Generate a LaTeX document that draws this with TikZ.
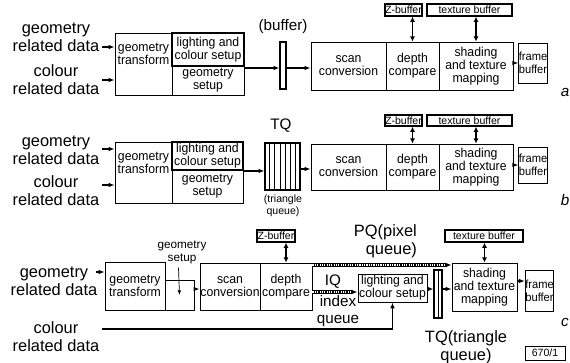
\documentclass[tikz,border=0pt]{standalone}
\usepackage{fontspec}
\setmainfont{Liberation Sans}
\newfontfamily\boxfont[FakeStretch=0.95]{Liberation Sans}
\usetikzlibrary{arrows.meta,positioning,calc}

\begin{document}
\begin{tikzpicture}[x=0.03cm, y=-0.03cm,
    sz/.style 2 args={minimum width=#1*0.03cm, minimum height=#2*0.03cm},
    blk/.style={draw, line width=0.8pt, inner sep=0pt, align=center, font=\boxfont\fontsize{11}{11.2}\selectfont},
    thk/.style={blk, line width=1.6pt},
    fbx/.style={blk, font=\boxfont\fontsize{10}{11}\selectfont},
    mem/.style={draw, line width=1.2pt, inner sep=0pt, font=\fontsize{9}{9}\selectfont},
    que/.style={draw, line width=1pt, inner sep=0pt},
    lbl/.style={align=center, font=\fontsize{14}{15.5}\selectfont},
    sml/.style={align=center, font=\fontsize{9}{10}\selectfont},
    arr/.style={-{Latex[length=5pt,width=4pt]}, line width=1pt},
    dbl/.style={{Latex[length=4.5pt,width=4.5pt]}-{Latex[length=4.5pt,width=4.5pt]}, line width=1.4pt},
    qband/.style={line width=3.2pt},
    qdots/.style={white, line width=1.2pt, dash pattern=on 1pt off 1pt},
    tag/.style={font=\fontsize{13}{14}\selectfont\itshape}
]
\useasboundingbox (0,0) rectangle (570,362);

% ---------- a ----------
\node[lbl] (gdA) at (56,37) {geometry\\related data};
\node[lbl] (cdA) at (56,80) {colour\\related data};
\node[blk, sz={57}{62}] (gtA) at (143.5,64) {geometry\\transform\\[6pt]};
\node[thk, sz={72}{33}] (lcA) at (208,49.5) {lighting and\\colour setup};
\node[blk, sz={72}{29}] (gsA) at (208,80.5) {geometry\\setup};
\node[que, sz={6}{47}] (bufA) at (283,65.5) {};
\node[lbl, font=\fontsize{13}{14}\selectfont] (bufl) at (283,27) {(buffer)};
\node[blk, sz={75}{48}] (scA) at (348.5,66) {scan\\conversion};
\node[blk, sz={53}{48}] (dcA) at (412.5,66) {depth\\compare};
\node[blk, sz={74}{48}] (shA) at (476,66) {shading\\and texture\\mapping};
\node[fbx, sz={28}{40}] (fbA) at (533,63) {frame\\buffer};
\node[mem, sz={37}{12}] (zbA) at (403.5,10) {Z-buffer};
\node[mem, sz={85}{12}] (tbA) at (469.5,10) {texture buffer};
\node[tag] (tagA) at (565,92) {a};

\coordinate (ia1) at (102,47);
\coordinate (ia2) at (102,80);
\coordinate (ya) at (0,68);
\draw[arr] (ia1) -- (ia1 -| gtA.west);
\draw[arr] (ia2) -- (ia2 -| gtA.west);
\draw[arr] (gsA.east |- ya) -- (bufA.west |- ya);
\draw[arr] (bufA.east |- ya) -- (scA.west |- ya);
\draw[arr] (shA.east |- fbA.west) -- (fbA.west);
\draw[dbl] (dcA.north |- zbA.south) -- (dcA.north);
\draw[dbl] (shA.north |- tbA.south) -- (shA.north);

% ---------- b ----------
\node[lbl] (gdB) at (56,150) {geometry\\related data};
\node[lbl] (cdB) at (56,191) {colour\\related data};
\node[blk, sz={57}{61}] (gtB) at (143.5,172.5) {geometry\\transform\\[6pt]};
\node[thk, sz={71}{28}] (lcB) at (207.5,156) {lighting and\\colour setup};
\node[blk, sz={71}{33}] (gsB) at (207.5,186.5) {geometry\\setup};
\node[que, sz={35}{47}] (tqB) at (282.5,166.5) {};
\foreach \i in {1,...,6}
    \draw[line width=0.6pt] ($(tqB.north west)!\i/7!(tqB.north east)$) -- ($(tqB.south west)!\i/7!(tqB.south east)$);
\node[lbl, font=\fontsize{13}{14}\selectfont] (tqlB) at (281,126) {TQ};
\node[sml] (tqsB) at (283,206) {(triangle\\queue)};
\node[blk, sz={75}{46}] (scB) at (348.5,167) {scan\\conversion};
\node[blk, sz={53}{46}] (dcB) at (412.5,167) {depth\\compare};
\node[blk, sz={74}{46}] (shB) at (476,167) {shading\\and texture\\mapping};
\node[fbx, sz={28}{36}] (fbB) at (533,165) {frame\\buffer};
\node[mem, sz={37}{11}] (zbB) at (403.5,120.5) {Z-buffer};
\node[mem, sz={85}{11}] (tbB) at (469.5,120.5) {texture buffer};
\node[tag] (tagB) at (565,200) {b};

\coordinate (ib1) at (102,149);
\coordinate (ib2) at (102,185);
\coordinate (yb) at (0,169);
\draw[arr] (ib1) -- (ib1 -| gtB.west);
\draw[arr] (ib2) -- (ib2 -| gtB.west);
\draw[arr] (lcB.south east) -- (lcB.south east -| tqB.west);
\draw[arr] (tqB.east |- yb) -- (scB.west |- yb);
\draw[arr] (shB.east |- fbB.west) -- (fbB.west);
\draw[dbl] (dcB.north |- zbB.south) -- (dcB.north);
\draw[dbl] (shB.north |- tbB.south) -- (shB.north);

% ---------- c ----------
\node[lbl] (gdC) at (54,281) {geometry\\related data};
\node[lbl] (cdC) at (56,337) {colour\\related data};
\node[blk, sz={60}{48}] (gtC) at (135,286) {geometry\\transform};
\node[blk, sz={29}{30}] (gsC) at (179.5,295) {};
\node[align=center, font=\fontsize{10}{11}\selectfont] (gslC) at (182,252) {geometry\\setup};
\node[blk, sz={60}{47}] (scC) at (230,286.5) {scan\\conversion};
\node[blk, sz={52}{47}] (dcC) at (286,286.5) {depth\\compare};
\node[mem, sz={38}{12}] (zbC) at (276,236) {Z-buffer};
\node[blk, sz={69}{28}] (lcC) at (392.5,288) {lighting and\\colour setup};
\node[que, sz={8}{48}] (tqC) at (438,294) {};
\draw[line width=0.6pt] (tqC.north) -- (tqC.south);
\node[blk, sz={65}{48}] (shC) at (484.5,287) {shading\\and texture\\mapping};
\node[fbx, sz={27}{41}] (fbC) at (539.5,290.5) {frame\\buffer};
\node[mem, sz={78}{12}] (tbC) at (484,236) {texture buffer};
\node[lbl, align=right, anchor=east] (pqlC) at (421,241) {PQ(pixel\\queue)};
\node[lbl, font=\fontsize{13}{14}\selectfont] (iqlC) at (333,282) {IQ};
\node[lbl, font=\fontsize{13}{14.5}\selectfont] (iqsC) at (338,311) {index\\queue};
\node[lbl] (tqlC) at (466,347) {TQ(triangle\\queue)};
\node[tag] (tagC) at (565,322) {c};
\node[draw, line width=0.8pt, inner sep=0pt, sz={40}{14}, font=\fontsize{9}{10}\selectfont] (ref) at (545,353) {670/1};

\coordinate (ic1) at (96,272);
\coordinate (ic2) at (102,329);
\coordinate (yc) at (0,289);
\coordinate (yp) at (0,265);
\coordinate (yi) at (0,292);
\coordinate (yf) at (0,281);
\draw[arr] (ic1) -- (ic1 -| gtC.west);
\draw[arr] (ic2) -| (lcC.south);
\draw[-{Latex[length=4pt,width=3pt]}, line width=0.6pt] ([xshift=-3pt]gslC.south) -- (gsC.center);
\draw[arr] (gsC.east |- yc) -- (scC.west |- yc);
\draw[dbl] (dcC.north |- zbC.south) -- (dcC.north);
\draw[dbl] (shC.north |- tbC.south) -- (shC.north);
% pixel queue
\draw[qband] (dcC.east |- yp) -- ([xshift=-5pt]shC.west |- yp);
\draw[qdots] (dcC.east |- yp) -- ([xshift=-5pt]shC.west |- yp);
\draw[arr] ([xshift=-6pt]shC.west |- yp) -- (shC.west |- yp);
% index queue
\draw[qband] (dcC.east |- yi) -- ([xshift=-5pt]lcC.west |- yi);
\draw[qdots] (dcC.east |- yi) -- ([xshift=-5pt]lcC.west |- yi);
\draw[arr] ([xshift=-6pt]lcC.west |- yi) -- (lcC.west |- yi);
\draw[arr] (lcC.east |- yc) -- (tqC.west |- yc);
\draw[arr] (tqC.east |- yc) -- (shC.west |- yc);
\draw[arr] (shC.east |- yf) -- (fbC.west |- yf);
\end{tikzpicture}
\end{document}
